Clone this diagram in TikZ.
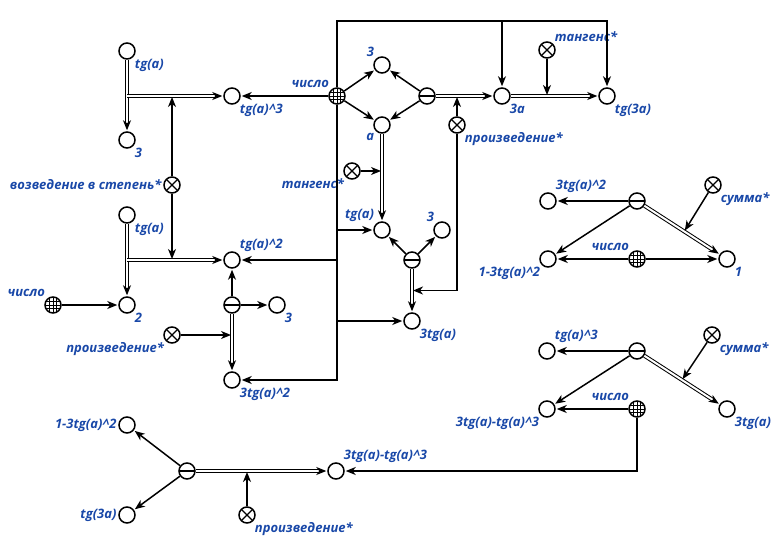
\documentclass[tikz,border=0pt]{standalone}
\usepackage{fontspec}
\setmainfont{Open Sans}
\usetikzlibrary{arrows.meta}
\definecolor{lblblue}{RGB}{25,72,168}
\newcommand{\pw}{\textasciicircum}

\begin{document}
\begin{tikzpicture}[x=1pt,y=-1pt,>={Stealth[length=10pt,width=8pt,inset=3pt]},line width=1.5pt,shorten >=1pt]
  \tikzset{
    obj/.style={circle,draw,line width=1.5pt,minimum size=16pt,inner sep=0pt},
    splt/.style={obj,path picture={\draw[line width=1.2pt] (path picture bounding box.west) -- (path picture bounding box.east);}},
    func/.style={obj,path picture={\draw[line width=1.2pt] (path picture bounding box.north west) -- (path picture bounding box.south east) (path picture bounding box.north east) -- (path picture bounding box.south west);}},
    numb/.style={obj,path picture={\foreach \d in {-3.5,0,3.5} {\draw[line width=0.7pt] ([xshift=\d pt]path picture bounding box.north) -- ([xshift=\d pt]path picture bounding box.south) ([yshift=\d pt]path picture bounding box.west) -- ([yshift=\d pt]path picture bounding box.east);}}},
    every label/.style={text=lblblue,font=\fontsize{13}{15}\selectfont\bfseries\itshape,inner sep=1pt},
    dbl/.style={double,double distance=2pt,line width=1pt}
  }
  \useasboundingbox (0,0) rectangle (778,548);
  % top left
  \node[obj,label={below right:tg(a)}] (tgA1) at (127,51) {};
  \node[obj,label={below right:3}] (thr1) at (127,140) {};
  \node[obj,label={below right:tg(a)\pw3}] (tgcub) at (232,96) {};
  \node[func,label={left:возведение в степень*}] (pow) at (172,185) {};
  \node[numb,label={above left:число}] (num1) at (337,96) {};
  \node[obj,label={above left:3}] (thr2) at (382,65) {};
  \node[obj,label={below left:a}] (a) at (382,125) {};
  \node[splt] (spl1) at (427,96) {};
  \node[func,label={below right:произведение*}] (prod1) at (457,125) {};
  \node[obj,label={below right:3a}] (a3) at (502,96) {};
  \node[func,label={above right:тангенс*}] (tan1) at (547,50) {};
  \node[obj,label={below right:tg(3a)}] (tga3) at (607,96) {};
  % middle
  \node[func,label={below left:тангенс*}] (tan2) at (352,171) {};
  \node[obj,label={above left:tg(a)}] (tgA2) at (382,230) {};
  \node[obj,label={above left:3}] (thr3) at (442,230) {};
  \node[splt] (spl2) at (412,260) {};
  \node[obj,label={below right:3tg(a)}] (tga1) at (412,321) {};
  % left middle
  \node[obj,label={below right:tg(a)}] (tgA3) at (127,215) {};
  \node[obj,label={below right:2}] (two) at (127,305) {};
  \node[numb,label={above left:число}] (num2) at (53,305) {};
  \node[obj,label={above right:tg(a)\pw2}] (tgsq) at (232,260) {};
  \node[splt] (spl3) at (232,305) {};
  \node[obj,label={below right:3}] (thr4) at (277,305) {};
  \node[func,label={below left:произведение*}] (prod2) at (172,335) {};
  \node[obj,label={below right:3tg(a)\pw2}] (tgsq3) at (232,380) {};
  % right top
  \node[splt] (spl4) at (637,201) {};
  \node[obj,label={above right:3tg(a)\pw2}] (tgsq3b) at (548,201) {};
  \node[obj,label={below left:1-3tg(a)\pw2}] (den) at (548,259) {};
  \node[numb,label={above left:число}] (num3) at (637,259) {};
  \node[obj,label={below right:1}] (one) at (727,259) {};
  \node[func,label={below right:сумма*}] (sum1) at (713,185) {};
  % right bottom
  \node[splt] (spl5) at (637,351) {};
  \node[obj,label={above right:tg(a)\pw3}] (tgcub2) at (547,351) {};
  \node[obj,label={below left:3tg(a)-tg(a)\pw3}] (numr) at (547,409) {};
  \node[numb,label={above left:число}] (num4) at (637,409) {};
  \node[obj,label={below right:3tg(a)}] (tga2) at (727,409) {};
  \node[func,label={below right:сумма*}] (sum2) at (712,335) {};
  % bottom
  \node[splt] (spl6) at (187,471) {};
  \node[obj,label={left:1-3tg(a)\pw2}] (den2) at (127,425) {};
  \node[obj,label={left:tg(3a)}] (tga3b) at (127,515) {};
  \node[obj,label={above right:3tg(a)-tg(a)\pw3}] (numr2) at (336,471) {};
  \node[func,label={below right:произведение*}] (prod3) at (247,515) {};

  % top left
  \draw[dbl,->] (tgA1) -- (thr1);
  \draw[dbl,->] (tgA1 |- tgcub) -- (tgcub);
  \draw[->] (pow) -- (pow |- tgcub);
  \draw[->] (pow) -- (pow |- tgsq);
  \draw[->] (num1) -- (tgcub);
  \draw[->] (num1) -- (thr2);
  \draw[->] (num1) -- (a);
  \draw[->] (spl1) -- (thr2);
  \draw[->] (spl1) -- (a);
  \draw[dbl,->] (spl1) -- (a3);
  \draw[->] (prod1) -- (prod1 |- a3);
  \draw[dbl,->] (a3) -- (tga3);
  \draw[->] (tan1) -- (tan1 |- a3);
  \coordinate (bus) at (337,21);
  \draw[->] (num1) -- (bus) -| (a3);
  \draw[->] (bus) -| (tga3);
  \draw[->] (num1) |- (tgA2);
  \draw[->] (num1) |- (tgsq);
  \draw[->] (num1) |- (tga1);
  \draw[->] (num1) |- (tgsq3);
  % middle
  \draw[dbl,->] (a) -- (tgA2);
  \draw[->] (tan2) -- (tan2 -| a);
  \draw[->] (spl2) -- (tgA2);
  \draw[->] (spl2) -- (thr3);
  \draw[dbl,->] (spl2) -- coordinate[pos=0.5] (pj) (tga1);
  \draw[->] (prod1) |- (pj);
  % left middle
  \draw[dbl,->] (tgA3) -- (two);
  \draw[dbl,->] (tgA3 |- tgsq) -- (tgsq);
  \draw[->] (num2) -- (two);
  \draw[->] (spl3) -- (tgsq);
  \draw[->] (spl3) -- (thr4);
  \draw[dbl,->] (spl3) -- (tgsq3);
  \draw[->] (prod2) -- (prod2 -| spl3);
  % right top
  \draw[->] (spl4) -- (tgsq3b);
  \draw[->] (spl4) -- (den);
  \draw[dbl,->] (spl4) -- coordinate[pos=0.53] (sj1) (one);
  \draw[->] (sum1) -- (sj1);
  \draw[->] (num3) -- (den);
  \draw[->] (num3) -- (one);
  % right bottom
  \draw[->] (spl5) -- (tgcub2);
  \draw[->] (spl5) -- (numr);
  \draw[dbl,->] (spl5) -- coordinate[pos=0.5] (sj2) (tga2);
  \draw[->] (sum2) -- (sj2);
  \draw[->] (num4) -- (numr);
  \draw[->] (num4) |- (numr2);
  % bottom
  \draw[->] (spl6) -- (den2);
  \draw[->] (spl6) -- (tga3b);
  \draw[dbl,->] (spl6) -- (numr2);
  \draw[->] (prod3) -- (prod3 |- spl6);
\end{tikzpicture}
\end{document}
